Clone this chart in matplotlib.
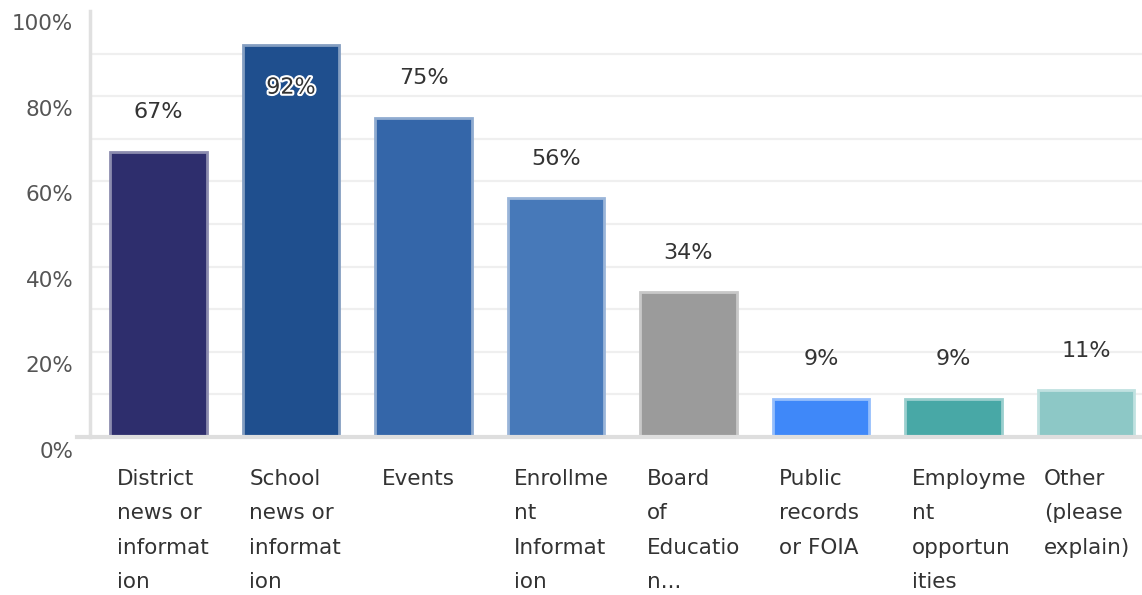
import numpy as np
import matplotlib
matplotlib.use("Agg")
import matplotlib.pyplot as plt
import matplotlib.colors as mcolors
import matplotlib.patheffects as pe

# data
labels = ["District\nnews or\ninformat\nion",
          "School\nnews or\ninformat\nion",
          "Events",
          "Enrollme\nnt\nInformat\nion",
          "Board\nof\nEducatio\nn...",
          "Public\nrecords\nor FOIA",
          "Employme\nnt\nopportun\nities",
          "Other\n(please\nexplain)"]
values = [67, 92, 75, 56, 34, 9, 9, 11]
colors = ["#2e2e6d", "#1f4f8e", "#3466a9", "#4779b9", "#9b9b9b",
          "#3f88f9", "#48a8a6", "#8dc8c6"]
yticks = [0, 20, 40, 60, 80, 100]

plt.rcParams['font.family'] = ['DejaVu Sans']

fig = plt.figure(figsize=(11.42, 5.95), dpi=100)
W, H = 1142, 595

# main axes: x 90..1142 px, y 11..437 px
ax = fig.add_axes([90 / W, (H - 437) / H, 1052 / W, 426 / H])
ax.set_ylim(0, 100)
ax.set_xlim(-0.517, 7.423)

x = np.arange(len(values))
bw = 0.73
edges = [tuple(0.55 * np.array(mcolors.to_rgb(c)) + 0.45) for c in colors]
ax.bar(x, values, width=bw, color=colors, edgecolor=edges, linewidth=2.0, zorder=3)

# gridlines every 10%
for g in range(10, 100, 10):
    ax.axhline(g, color="#efefef", lw=1.6, zorder=1)
ax.axhline(0, xmin=-0.012, color="#dedede", lw=3.0, zorder=4, clip_on=False)

for s in ["top", "right", "bottom"]:
    ax.spines[s].set_visible(False)
ax.spines["left"].set_color("#e0e0e0")
ax.spines["left"].set_linewidth(2.5)
ax.set_xticks([])
ax.set_yticks([])

# value labels
for i, v in enumerate(values):
    if v + 10 > 95:
        t = ax.text(i, v - 10, f"{v}%", ha="center", va="center", fontsize=16, color="#333333", zorder=5)
        t.set_path_effects([pe.withStroke(linewidth=3, foreground="white")])
    else:
        ax.text(i, v + 9.3, f"{v}%", ha="center", va="center", fontsize=16, color="#333333", zorder=5)

# category labels under bars, left aligned
trans = ax.get_xaxis_transform()
for i, lab in enumerate(labels):
    ax.text(i - bw / 2 + 0.05, -0.075, lab, transform=trans, ha="left", va="top",
            fontsize=15.5, color="#333333", linespacing=1.9)

# y tick labels live on their own (offset) scale, as in the original
lab_ax = fig.add_axes([90 / W, (H - 450) / H, 1052 / W, 428 / H])
lab_ax.set_ylim(0, 100)
lab_ax.patch.set_visible(False)
for s in lab_ax.spines.values():
    s.set_visible(False)
lab_ax.set_xticks([])
lab_ax.set_yticks(yticks)
lab_ax.set_yticklabels([f"{t}%" for t in yticks])
lab_ax.tick_params(axis="y", length=0, pad=12, labelsize=15.5, labelcolor="#555555")

fig.savefig("out.png", dpi=100)
